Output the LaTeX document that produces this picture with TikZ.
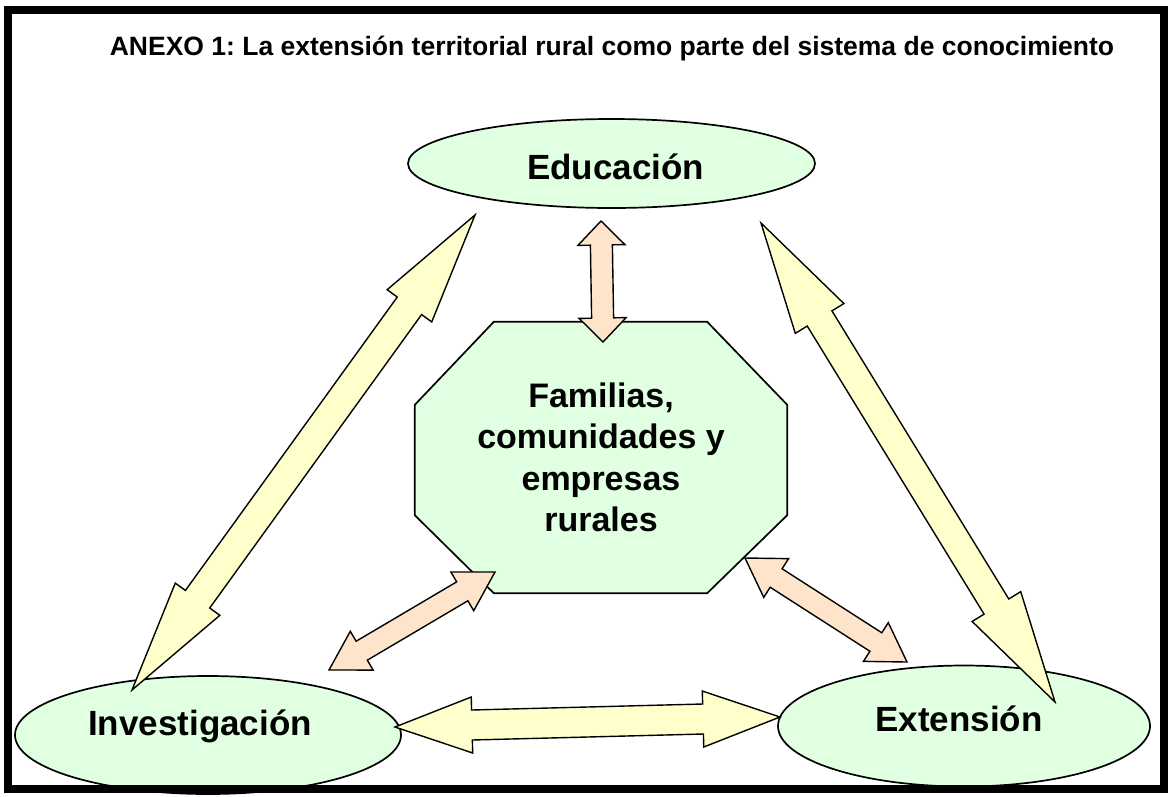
\documentclass[tikz,border=0pt]{standalone}
\usepackage{fontspec}
\setmainfont{Liberation Sans}
\usetikzlibrary{shapes.geometric,calc}
\pgfdeclarelayer{background}
\pgfsetlayers{background,main}
\frenchspacing
\definecolor{nodegreen}{HTML}{E1FFE1}
\definecolor{arrowyellow}{HTML}{FFFFCC}
\definecolor{arrowpeach}{HTML}{FFE4CC}
\tikzset{
  oval/.style={ellipse, draw=black, line width=1.7pt, fill=nodegreen, inner sep=0pt,
    font=\bfseries\fontsize{35}{42}\selectfont},
  famtext/.style={rectangle, inner sep=0pt, minimum width=372pt, minimum height=271pt,
    align=center, font=\bfseries\fontsize{34}{41.5}\selectfont},
  octo/.style={draw=black, line width=1.7pt, fill=nodegreen, line join=miter},
  yarrow/.style={draw=black, line width=1.4pt, fill=arrowyellow, line join=miter},
  parrow/.style={draw=black, line width=1.4pt, fill=arrowpeach, line join=miter},
  outerframe/.style={draw=black, line width=8pt},
  titletext/.style={font=\bfseries\fontsize{26.5}{31}\selectfont, inner sep=0pt}
}
% block double arrow between two named points
% #1 tip A, #2 tip B, #3 head length, #4 head half width, #5 shaft half width, #6 style
\newcommand\blockarrow[6]{%
  \coordinate (ba-p) at ($(#1)!#3!(#2)$);
  \coordinate (ba-q) at ($(#2)!#3!(#1)$);
  \draw[#6] (#1) -- ($(ba-p)!#4!90:(#2)$) -- ($(ba-p)!#5!90:(#2)$)
    -- ($(ba-q)!#5!-90:(#1)$) -- ($(ba-q)!#4!-90:(#1)$) -- (#2)
    -- ($(ba-q)!#4!90:(#1)$) -- ($(ba-q)!#5!90:(#1)$)
    -- ($(ba-p)!#5!-90:(#2)$) -- ($(ba-p)!#4!-90:(#2)$) -- cycle;
}
\begin{document}
\begin{tikzpicture}[x=1pt,y=-1pt]
\useasboundingbox (0,0) rectangle (1172,796);
\begin{pgfonlayer}{background}
\fill[white] (0,0) rectangle (1172,796);
\end{pgfonlayer}

% title
\node[titletext, anchor=base] (title) at (612,55)
  {ANEXO 1: La extensión territorial rural como parte del sistema de conocimiento};

% main nodes
\node[oval, minimum width=407pt, minimum height=89pt, text height=31pt, text depth=0pt]
  (edu) at (611.5,163.5) {\hspace*{8pt}Educación};
\node[oval, minimum width=386pt, minimum height=118pt, text height=12pt, text depth=12pt]
  (inv) at (208,735) {Investigación\hspace*{16pt}};
\node[oval, minimum width=372pt, minimum height=121pt, text height=10pt, text depth=0pt]
  (ext) at (964,726) {Extensión\hspace*{10pt}};

\node[famtext] (fam) at (601,457.5) {Familias,\\comunidades y\\empresas\\rurales};
\begin{pgfonlayer}{background}
\draw[octo] ($(fam.north west)+(79,0)$) -- ($(fam.north east)+(-80,0)$)
  -- ($(fam.north east)+(0,83)$) -- ($(fam.south east)+(0,-78)$)
  -- ($(fam.south east)+(-80,0)$) -- ($(fam.south west)+(79,0)$)
  -- ($(fam.south west)+(0,-78)$) -- ($(fam.north west)+(0,83)$) -- cycle;
\end{pgfonlayer}

% arrow tips
\coordinate (ie-a) at (132,690);
\coordinate (ie-b) at (475,215);
\coordinate (ee-a) at (761,223);
\coordinate (ee-b) at (1055,702);
\coordinate (ix-a) at (395,727);
\coordinate (ix-b) at (780,717);
\coordinate (ef-a) at (601,221);
\coordinate (ef-b) at (603,342);
\coordinate (if-a) at (329,670);
\coordinate (if-b) at (495,572);
\coordinate (xf-a) at (745,558);
\coordinate (xf-b) at (907,662);

\blockarrow{ie-a}{ie-b}{112pt}{27.5pt}{15pt}{yarrow}
\blockarrow{ee-a}{ee-b}{112pt}{28.5pt}{14.5pt}{yarrow}
\blockarrow{ix-a}{ix-b}{77pt}{28pt}{15pt}{yarrow}
\blockarrow{ef-a}{ef-b}{24pt}{23.5pt}{11pt}{parrow}
\blockarrow{if-a}{if-b}{38pt}{22.5pt}{11pt}{parrow}
\blockarrow{xf-a}{xf-b}{37pt}{23pt}{11pt}{parrow}

% frame
\draw[outerframe] (8,9.5) rectangle (1164,789);
\end{tikzpicture}
\end{document}
